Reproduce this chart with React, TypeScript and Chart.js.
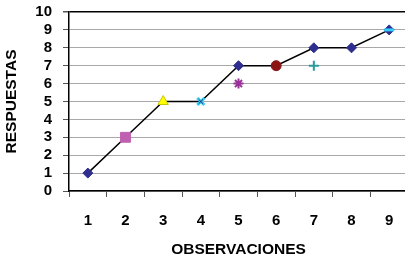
import React, { useEffect, useRef } from "react";
import { Chart, registerables } from "chart.js";

Chart.register(...registerables);

const categories = ["1", "2", "3", "4", "5", "6", "7", "8", "9"];
const respuestas = [1, 3, 5, 5, 7, 7, 8, 8, 9];
const extraPoints = [null, null, null, null, 6, null, 7, null, null];
const overlayPoints = [null, null, null, 5, null, null, null, null, 9];

const mainStyles = ["rectRot", "rect", "triangle", "crossRot", "rectRot", "circle", "rectRot", "rectRot", "rectRot"];
const mainColors = ["#2E2E8E", "#C060B0", "#FFFF00", "#33CCEE", "#2E2E8E", "#8B1515", "#2E2E8E", "#2E2E8E", "#2E2E8E"];
const mainBorders = ["#2E2E8E", "#C060B0", "#C8C800", "#33CCEE", "#2E2E8E", "#8B1515", "#2E2E8E", "#2E2E8E", "#2E2E8E"];
const mainRadius = [5, 7, 6, 5, 5, 5, 5, 5, 5];
const mainBorderWidth = [1, 1, 1, 3, 1, 1, 1, 1, 1];

const extraStyles = [null, null, null, null, "star", null, "cross", null, null];
const extraColors = ["", "", "", "", "#993399", "", "#2A9A9A", "", ""];

const overlayStyles = [null, null, null, "crossRot", null, null, null, null, "line"];
const overlayColors = ["", "", "", "#2E2E8E", "", "", "", "", "#33CCFF"];
const overlayWidths = [1, 1, 1, 1, 1, 1, 1, 1, 3];
const overlayRadius = [0, 0, 0, 3, 0, 0, 0, 0, 5];

export default function App() {
  const ref = useRef<HTMLCanvasElement>(null);
  useEffect(() => {
    if (!ref.current) return;
    const font = { family: "'Liberation Sans', Arial, sans-serif", weight: "bold" as const, size: 15 };
    const titleFont = { family: "'Liberation Sans', Arial, sans-serif", weight: "bold" as const, size: 15.5 };
    const chart = new Chart(ref.current, {
      type: "line",
      data: {
        labels: categories,
        datasets: [
          {
            data: overlayPoints as any,
            showLine: false,
            pointStyle: overlayStyles as any,
            pointRadius: overlayRadius,
            borderColor: overlayColors,
            backgroundColor: overlayColors,
            pointBorderWidth: overlayWidths,
            order: 0,
          },
          {
            data: respuestas,
            borderColor: "#000000",
            borderWidth: 1.5,
            tension: 0,
            pointStyle: mainStyles as any,
            pointRadius: mainRadius,
            pointBackgroundColor: mainColors,
            pointBorderColor: mainBorders,
            pointBorderWidth: mainBorderWidth,
            order: 1,
          },
          {
            data: extraPoints as any,
            showLine: false,
            pointStyle: extraStyles as any,
            pointRadius: 5,
            pointBorderColor: extraColors,
            pointBackgroundColor: extraColors,
            pointBorderWidth: 2,
            order: 2,
          },
        ],
      },
      options: {
        responsive: false,
        animation: false,
        events: [],
        layout: { padding: { top: 12, left: 0, right: 0, bottom: 0 } },
        plugins: { legend: { display: false }, tooltip: { enabled: false } },
        scales: {
          x: {
            offset: true,
            grid: { drawOnChartArea: false, drawTicks: true, tickLength: 6, tickColor: "#555", offset: true },
            border: { display: true, color: "#000", width: 1.5 },
            ticks: { color: "#000", font, padding: 15, maxRotation: 0, autoSkip: false },
            title: { display: true, text: "OBSERVACIONES", color: "#000", font: titleFont, padding: { top: 0, bottom: 2 } },
            afterFit: (s: any) => { s.height = 70; s.paddingLeft = 0; s.paddingRight = 0; },
          },
          y: {
            min: 0,
            max: 10,
            ticks: { stepSize: 1, color: "#000", font, padding: 11, autoSkip: false },
            grid: {
              color: (c: any) => (c.tick && c.tick.value === 10 ? "#000" : "#a8a8a8"),
              lineWidth: (c: any) => (c.tick && c.tick.value === 10 ? 1.5 : 1),
              tickLength: 6,
              tickColor: "#555",
            },
            border: { display: true, color: "#000", width: 1.5 },
            title: { display: true, text: "RESPUESTAS", color: "#000", font: titleFont, padding: { top: 2, bottom: 0 } },
            afterFit: (s: any) => { s.width = 69; s.paddingTop = 0; s.paddingBottom = 0; },
          },
        },
      },
    });
    return () => chart.destroy();
  }, []);
  return (
    <div style={{ position: "absolute", left: 0, top: 0, width: 416, height: 261 }}>
      <canvas ref={ref} width={416} height={261} style={{ display: "block" }} />
    </div>
  );
}
